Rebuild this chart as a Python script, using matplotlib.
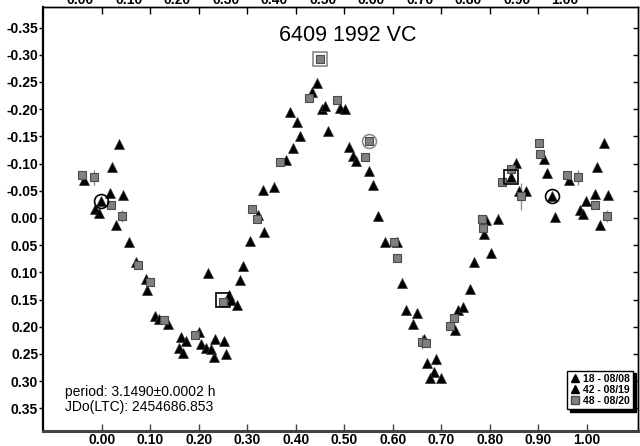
import matplotlib
matplotlib.use("Agg")
import matplotlib.pyplot as plt
from matplotlib.lines import Line2D

plt.rcParams['font.family'] = ['Liberation Sans', 'DejaVu Sans']

# session 18 - 08/08 (triangles)
ph_18 = [0.0357, 0.0200, -0.0365, 0.0165, 0.0427, -0.0014, -0.0144, -0.0068, 0.0282, 0.0563,
         0.0701, 0.0907, 0.0928, 0.1093, 0.1175, 0.1361, 0.1629, 0.1732, 0.1588, 0.1670,
         0.1994, 0.2041, 0.2144, 0.2247, 0.2309, 0.2330, 0.2515, 0.2557, 0.2186, 0.2625,
         0.2654, 0.2777, 0.2845, 0.2913, 0.3058, 0.3346, 0.3216, 0.3320, 0.3546, 0.3794]
mag_18 = [-0.136, -0.094, -0.070, -0.046, -0.042, -0.032, -0.017, -0.009, 0.013, 0.045,
          0.081, 0.112, 0.132, 0.180, 0.186, 0.195, 0.219, 0.226, 0.239, 0.248,
          0.209, 0.232, 0.239, 0.241, 0.256, 0.222, 0.226, 0.250, 0.102, 0.142,
          0.151, 0.160, 0.114, 0.089, 0.042, 0.026, -0.006, -0.051, -0.057, -0.107]

# session 42 - 08/19 (triangles)
ph_42 = [0.3876, 0.4014, 0.4082, 0.3932, 0.4330, 0.4433, 0.4530, 0.4604, 0.4666, 0.4901,
         0.5016, 0.5099, 0.5181, 0.5243, 0.5499, 0.5594, 0.5691, 0.5835, 0.6082, 0.6179,
         0.6268, 0.6489, 0.6419, 0.6645, 0.6701, 0.6880, 0.6851, 0.6763, 0.6996, 0.7278,
         0.7346, 0.7449, 0.7581, 0.7670, 0.8021, 0.7870, 0.7918, 0.8171, 0.8439, 0.8530,
         0.8604, 0.8748, 0.9113, 0.9181, 0.9272, 0.9334, 0.9635, 0.9856, 0.9924, 0.9979,
         1.0165, 1.0200, 1.0274, 1.0357, 1.0427]
mag_42 = [-0.195, -0.177, -0.151, -0.129, -0.231, -0.249, -0.200, -0.206, -0.160, -0.203,
          -0.200, -0.131, -0.114, -0.104, -0.087, -0.061, -0.004, 0.045, 0.045, 0.120,
          0.169, 0.174, 0.195, 0.223, 0.267, 0.260, 0.284, 0.295, 0.295, 0.206,
          0.170, 0.163, 0.131, 0.080, 0.064, 0.029, 0.004, 0.002, -0.075, -0.101,
          -0.050, -0.050, -0.108, -0.083, -0.040, -0.001, -0.070, -0.015, -0.007, -0.032,
          -0.045, -0.093, 0.013, -0.137, -0.042]
err_42 = [0] * 25 + [0.010] + [0] * 29

# session 48 - 08/20 (squares)
ph_48 = [-0.0406, -0.0171, 0.0186, 0.0406, 0.0742, 0.0990, 0.1278, 0.1924, 0.2501, 0.3093,
         0.3190, 0.3670, 0.4268, 0.4495, 0.4852, 0.5429, 0.5511, 0.6014, 0.6089, 0.6592,
         0.6687, 0.7175, 0.7264, 0.7829, 0.7849, 0.8241, 0.8427, 0.8633, 0.9004, 0.9031,
         0.9588, 0.9808, 1.0159, 1.0406]
mag_48 = [-0.079, -0.075, -0.023, -0.004, 0.086, 0.118, 0.188, 0.216, 0.155, -0.017,
          0.002, -0.103, -0.220, -0.292, -0.216, -0.113, -0.141, 0.045, 0.073, 0.228,
          0.229, 0.199, 0.184, 0.002, 0.019, -0.066, -0.090, -0.040, -0.138, -0.118,
          -0.079, -0.075, -0.023, -0.004]
err_48 = [0, 0.014, 0, 0.011, 0, 0, 0, 0, 0, 0,
          0, 0, 0, 0.008, 0, 0, 0, 0, 0, 0.013,
          0, 0, 0, 0, 0, 0, 0, 0.025, 0, 0,
          0, 0.014, 0, 0.011]

# marked points
circle_ph = [-0.0014, 0.9272]
circle_mag = [-0.032, -0.040]
box_ph = [0.8439, 0.2501]
box_mag = [-0.075, 0.150]
gbox_ph, gbox_mag = [0.4495], [-0.292]
gcirc_ph, gcirc_mag = [0.5511], [-0.141]

xticks = [0.0, 0.1, 0.2, 0.3, 0.4, 0.5, 0.6, 0.7, 0.8, 0.9, 1.0]
xlabels = ['0.00', '0.10', '0.20', '0.30', '0.40', '0.50', '0.60', '0.70', '0.80', '0.90', '1.00']
yticks = [-0.35, -0.30, -0.25, -0.20, -0.15, -0.10, -0.05, 0.0, 0.05, 0.10, 0.15, 0.20, 0.25, 0.30, 0.35]
ylabels = ['-0.35', '-0.30', '-0.25', '-0.20', '-0.15', '-0.10', '-0.05', '0.00',
           '0.05', '0.10', '0.15', '0.20', '0.25', '0.30', '0.35']

fig = plt.figure(figsize=(6.4, 4.46), dpi=100)
ax = fig.add_axes([0.0672, 0.0343, 0.9297, 0.9507])

ax.errorbar(ph_42, mag_42, yerr=err_42, fmt='none', ecolor='#909090', elinewidth=1, zorder=1)
ax.errorbar(ph_48, mag_48, yerr=err_48, fmt='none', ecolor='#909090', elinewidth=1, zorder=1)
ax.plot(ph_18, mag_18, '^', color='black', ms=6.5, mec='#333333', mew=0.5, zorder=3)
ax.plot(ph_42, mag_42, '^', color='black', ms=6.5, mec='#333333', mew=0.5, zorder=3)
ax.plot(ph_48, mag_48, 's', color='#808080', ms=5.5, mec='#4a4a4a', mew=0.8, zorder=4)

ax.plot(circle_ph, circle_mag, 'o', mfc='none', mec='black', ms=10, mew=1.2, zorder=5)
ax.plot(box_ph, box_mag, 's', mfc='none', mec='black', ms=9.5, mew=1.2, zorder=5)
ax.plot(gbox_ph, gbox_mag, 's', mfc='none', mec='#8a8a8a', ms=9.5, mew=1.2, zorder=5)
ax.plot(gcirc_ph, gcirc_mag, 'o', mfc='none', mec='#8a8a8a', ms=10, mew=1.2, zorder=5)

ax.set_xlim(-0.1216, 1.1052)
ax.set_ylim(0.391, -0.3884)

ax.set_xticks(xticks)
ax.set_xticklabels(xlabels, fontsize=10, fontweight='bold')
ax.set_yticks(yticks)
ax.set_yticklabels(ylabels, fontsize=10, fontweight='bold')
ax.tick_params(axis='x', direction='in', length=5, width=1, color='#444444', pad=1.5)
ax.tick_params(axis='y', direction='out', length=3, width=1, pad=0.5, right=False)

# right side ticks point inwards
ax2 = ax.secondary_yaxis('right')
ax2.set_yticks(yticks)
ax2.set_yticklabels([])
ax2.tick_params(direction='in', length=3.5, width=1)
ax2.spines['right'].set_linewidth(1)

# top axis: ticks in place, labels shifted left
top = ax.secondary_xaxis('top')
top.set_xticks([t - 0.045 for t in xticks])
top.set_xticklabels(xlabels, fontsize=10, fontweight='bold')
top.tick_params(which='major', length=0, pad=-0.5)
top.set_xticks(xticks, minor=True)
top.tick_params(which='minor', direction='in', length=5, width=1)
top.spines['top'].set_linewidth(1)

ax.spines['left'].set_linewidth(1.6)
ax.spines['bottom'].set_linewidth(2.2)
ax.spines['bottom'].set_color('#444444')
ax.spines['top'].set_linewidth(1)
ax.spines['right'].set_linewidth(1)

ax.text(0.5126, 0.931, '6409 1992 VC', transform=ax.transAxes, fontsize=15.5,
        ha='center', va='center')
ax.text(0.037, 0.092, 'period: 3.1490\u00b10.0002 h', transform=ax.transAxes,
        fontsize=10, va='center')
ax.text(0.037, 0.0566, 'JDo(LTC): 2454686.853', transform=ax.transAxes,
        fontsize=10, va='center')

handles = [Line2D([], [], ls='none', marker='^', color='black', ms=6),
           Line2D([], [], ls='none', marker='^', color='black', ms=6),
           Line2D([], [], ls='none', marker='s', color='#808080', mec='#4a4a4a', ms=5.5)]
leg = ax.legend(handles, ['18 - 08/08', '42 - 08/19', '48 - 08/20'],
                loc='lower right', bbox_to_anchor=(0.9916, 0.0512), borderaxespad=0,
                prop={'size': 7.5, 'weight': 'bold'}, handlelength=0.8, handletextpad=0.4,
                borderpad=0.3, labelspacing=0.1, fancybox=False,
                shadow={'color': 'black', 'alpha': 1}, framealpha=1)
leg.get_frame().set_edgecolor('black')
leg.get_frame().set_linewidth(1)

fig.savefig('out.png', dpi=100)
